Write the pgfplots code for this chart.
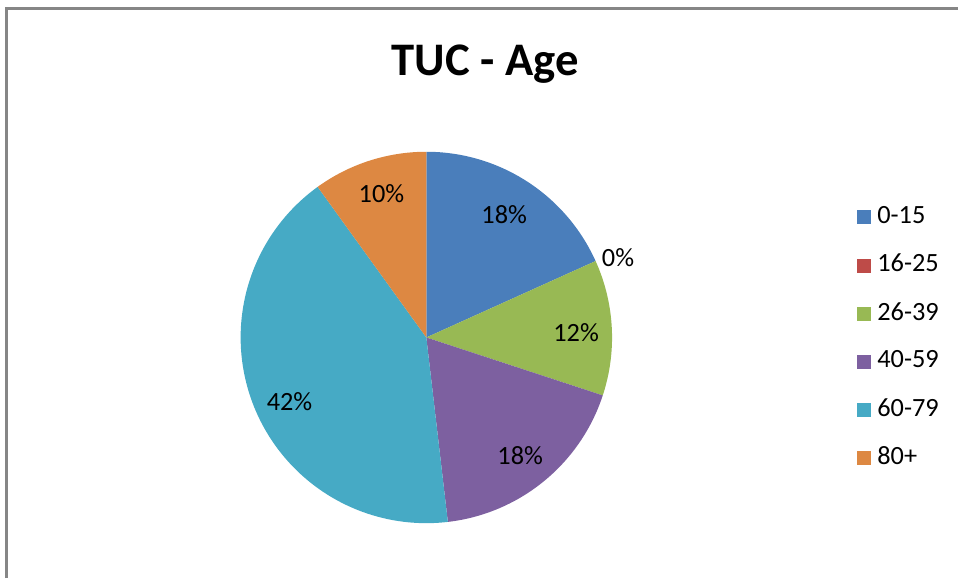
\documentclass[border=0pt]{standalone}
\usepackage{pgfplots}
\pgfplotsset{compat=1.18}
\usepackage{fontspec}
\setmainfont{Carlito}
\definecolor{c1}{RGB}{74,126,187}
\definecolor{c2}{RGB}{190,75,72}
\definecolor{c3}{RGB}{152,185,84}
\definecolor{c4}{RGB}{125,96,160}
\definecolor{c5}{RGB}{70,170,197}
\definecolor{c6}{RGB}{221,136,66}
\definecolor{bordergray}{RGB}{134,134,134}
% percentages of each age group
\pgfmathsetmacro\aA{90}
\pgfmathsetmacro\aB{\aA-3.6*18.25}% 0-15
\pgfmathsetmacro\aC{\aB-3.6*0}% 16-25
\pgfmathsetmacro\aD{\aC-3.6*11.8}% 26-39
\pgfmathsetmacro\aE{\aD-3.6*18.1}% 40-59
\pgfmathsetmacro\aF{\aE-3.6*41.9}% 60-79
\pgfmathsetmacro\aG{\aF-3.6*9.95}% 80+
\begin{document}
\begin{tikzpicture}
\begin{axis}[width=9.59cm,height=5.79cm,scale only axis,
  xmin=0,xmax=959,ymin=0,ymax=579,y dir=reverse,
  hide axis,clip=false,
  legend image code/.code={\fill[#1,draw=none] (0cm,-0.07cm) rectangle (0.14cm,0.07cm);},
  legend cell align=left,
  legend style={draw=none,fill=none,inner sep=0pt,row sep=0pt,column sep=0.06cm,
    at={(axis cs:858,192.85)},anchor=north west,
    font=\fontsize{7.5}{9}\selectfont,
    nodes={inner sep=0pt,minimum height=0.483cm}},
]
\path (axis cs:0,0) rectangle (axis cs:959,579);
\addplot[forget plot,fill=c1,draw=none,domain=\aB:\aA,samples=80,variable=\t] ({427+186*cos(t)},{338-186*sin(t)}) -- (427,338) -- cycle;
\addplot[forget plot,fill=c3,draw=none,domain=\aD:\aC,samples=80,variable=\t] ({427+186*cos(t)},{338-186*sin(t)}) -- (427,338) -- cycle;
\addplot[forget plot,fill=c4,draw=none,domain=\aE:\aD,samples=80,variable=\t] ({427+186*cos(t)},{338-186*sin(t)}) -- (427,338) -- cycle;
\addplot[forget plot,fill=c5,draw=none,domain=\aF:\aE,samples=120,variable=\t] ({427+186*cos(t)},{338-186*sin(t)}) -- (427,338) -- cycle;
\addplot[forget plot,fill=c6,draw=none,domain=\aG:\aF,samples=60,variable=\t] ({427+186*cos(t)},{338-186*sin(t)}) -- (427,338) -- cycle;
\addlegendimage{fill=c1,draw=none}
\addlegendentry{0-15}
\addlegendimage{fill=c2,draw=none}
\addlegendentry{16-25}
\addlegendimage{fill=c3,draw=none}
\addlegendentry{26-39}
\addlegendimage{fill=c4,draw=none}
\addlegendentry{40-59}
\addlegendimage{fill=c5,draw=none}
\addlegendentry{60-79}
\addlegendimage{fill=c6,draw=none}
\addlegendentry{80+}
\draw[bordergray,line width=0.03cm] (axis cs:7,579) -- (axis cs:7,8.5) -- (axis cs:959,8.5);
\node[font=\fontsize{13.3}{16}\selectfont\bfseries,anchor=base] at (axis cs:486,76) {TUC - Age};
\begin{scope}[every node/.style={font=\fontsize{7.5}{9}\selectfont,inner sep=0pt}]
\node at (axis cs:505,215) {18\%};
\node at (axis cs:619,258) {0\%};
\node at (axis cs:577,333) {12\%};
\node at (axis cs:521,456) {18\%};
\node at (axis cs:290,402) {42\%};
\node at (axis cs:382,194) {10\%};
\end{scope}
\end{axis}
\end{tikzpicture}
\end{document}
